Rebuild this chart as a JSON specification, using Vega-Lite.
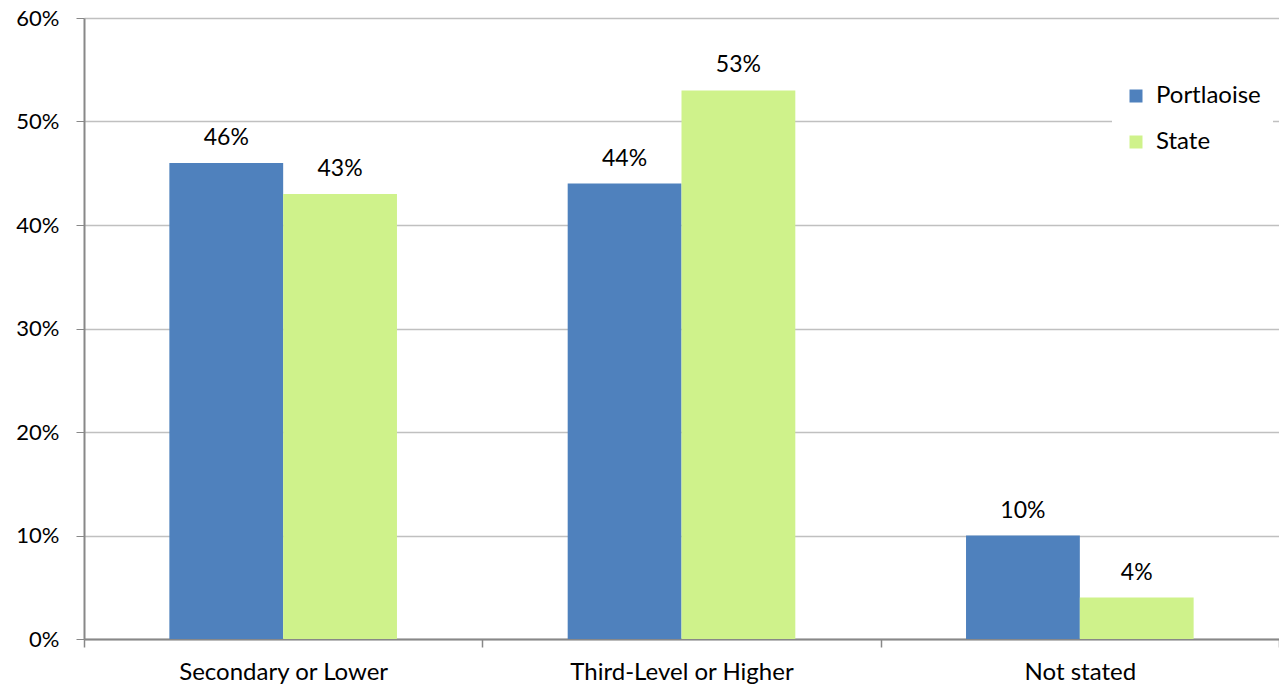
{
  "$schema": "https://vega.github.io/schema/vega-lite/v6.json",
  "width": 1195,
  "height": 621,
  "autosize": {"type": "none"},
  "padding": {"left": 84, "top": 18, "right": 0, "bottom": 49},
  "background": "white",
  "config": {
    "font": "Lato",
    "view": {"stroke": null}
  },
  "data": {
    "values": [
      {"category": "Secondary or Lower", "series": "Portlaoise", "value": 0.46},
      {"category": "Secondary or Lower", "series": "State", "value": 0.43},
      {"category": "Third-Level or Higher", "series": "Portlaoise", "value": 0.44},
      {"category": "Third-Level or Higher", "series": "State", "value": 0.53},
      {"category": "Not stated", "series": "Portlaoise", "value": 0.10},
      {"category": "Not stated", "series": "State", "value": 0.04}
    ]
  },
  "encoding": {
    "x": {
      "field": "category",
      "type": "nominal",
      "sort": null,
      "scale": {"paddingInner": 0, "paddingOuter": 0},
      "axis": {
        "title": null,
        "labelAngle": 0,
        "labelFontSize": 24,
        "labelLimit": 400,
        "labelColor": "#000000",
        "labelPadding": 13,
        "tickBand": "extent",
        "tickSize": 8,
        "tickColor": "#888888",
        "domainColor": "#888888",
        "domainWidth": 2,
        "tickWidth": 1.5
      }
    },
    "xOffset": {
      "field": "series",
      "type": "nominal",
      "sort": ["Portlaoise", "State"],
      "scale": {"paddingInner": 0, "paddingOuter": 0.75}
    },
    "y": {
      "field": "value",
      "type": "quantitative",
      "scale": {"domain": [0, 0.6], "nice": false},
      "axis": {
        "title": null,
        "format": ".0%",
        "values": [0, 0.1, 0.2, 0.3, 0.4, 0.5, 0.6],
        "labelFontSize": 22,
        "labelColor": "#000000",
        "labelPadding": 17,
        "tickSize": 8,
        "tickColor": "#888888",
        "domainColor": "#888888",
        "domainWidth": 2,
        "gridColor": "#c0c0c0",
        "gridWidth": 1.5
      }
    }
  },
  "layer": [
    {
      "mark": {"type": "bar"},
      "encoding": {
        "color": {
          "field": "series",
          "type": "nominal",
          "sort": ["Portlaoise", "State"],
          "scale": {"domain": ["Portlaoise", "State"], "range": ["#4F81BD", "#CFF28B"]},
          "legend": {
            "title": null,
            "orient": "none",
            "legendX": 1028,
            "legendY": 54,
            "fillColor": "white",
            "padding": 12,
            "symbolType": "square",
            "symbolSize": 169,
            "symbolStrokeWidth": 0,
            "labelFontSize": 24,
            "labelColor": "#000000",
            "labelOffset": 8,
            "rowPadding": 22
          }
        }
      }
    },
    {
      "mark": {"type": "text", "baseline": "bottom", "dy": -13, "fontSize": 23, "color": "#000000"},
      "encoding": {
        "text": {"field": "value", "type": "quantitative", "format": ".0%"}
      }
    }
  ]
}
